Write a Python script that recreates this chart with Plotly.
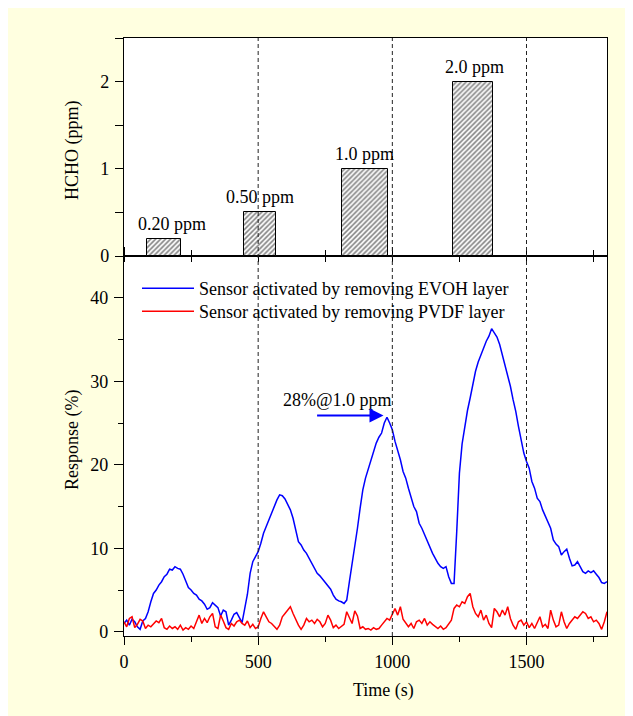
import plotly.graph_objects as go

# ---------------- data ----------------
time_s = list(range(0, 1801, 10))

evoh_response = [
    1.0, 1.4, 0.8, 1.5, 1.2, 0.6, 0.3, 1.3, 1.6, 2.4,
    3.6, 4.6, 5.0, 5.6, 6.0, 6.6, 6.9, 7.5, 7.4, 7.8,
    7.6, 7.5, 6.9, 6.1, 5.3, 5.0, 4.6, 4.4, 3.9, 3.7,
    3.3, 2.7, 2.9, 3.5, 3.2, 2.9, 1.9, 2.6, 2.4, 0.8,
    1.4, 2.1, 2.3, 1.6, 1.1, 2.8, 4.5, 7.0, 8.4, 9.0,
    9.6, 10.6, 11.8, 12.6, 13.4, 14.4, 15.2, 15.8, 16.4, 16.3,
    15.9, 15.3, 14.6, 13.6, 12.0, 10.8, 10.4, 9.8, 9.4, 8.8,
    8.2, 7.6, 7.0, 6.7, 6.3, 6.0, 5.6, 5.1, 4.4, 3.9,
    3.7, 3.6, 3.4, 3.8, 6.0, 8.0, 10.2, 12.4, 14.8, 17.0,
    18.4, 19.4, 20.6, 21.6, 22.6, 23.3, 23.8, 25.0, 25.7, 25.0,
    24.2, 22.8, 21.8, 20.6, 19.2, 18.4, 17.2, 16.2, 15.0, 14.4,
    13.0, 12.4, 11.6, 11.0, 10.0, 9.4, 8.8, 8.2, 7.8, 7.6,
    7.8, 6.6, 5.8, 5.8, 12.0, 19.0, 22.5, 24.8, 26.5, 28.0,
    29.8, 31.2, 32.3, 33.2, 34.0, 34.8, 35.4, 36.3, 35.8, 35.3,
    34.4, 33.2, 32.0, 30.6, 29.4, 27.8, 26.4, 24.6, 23.0, 21.4,
    20.4, 19.6, 18.0, 17.2, 16.0, 15.6, 14.6, 13.8, 13.0, 12.4,
    11.0, 10.5, 10.2, 9.2, 9.6, 9.9, 8.8, 7.9, 8.0, 8.4,
    7.8, 7.2, 7.0, 7.3, 7.1, 7.3, 6.9, 6.5, 5.9, 5.8,
    6.0,
]

pvdf_response = [
    1.2, 0.6, 1.6, 1.8, 0.5, 0.9, 1.5, 1.3, 0.4, 0.8,
    0.6, 1.0, 1.3, 1.1, 1.6, 0.5, 0.3, 0.7, 0.4, 0.6,
    0.3, 0.8, 0.2, 0.5, 0.3, 0.7, 0.4, 1.2, 2.0, 1.0,
    1.6, 1.1, 1.8, 2.2, 0.6, 0.4, 2.0, 1.3, 0.5, 0.3,
    1.0, 0.7, 1.2, 1.4, 1.0, 0.8, 1.3, 0.5, 0.9, 0.4,
    0.6, 1.6, 2.4, 1.8, 1.2, 1.0, 0.6, 0.3, 0.8, 1.8,
    2.2, 2.6, 3.0, 2.2, 1.4, 0.8, 0.3, 0.8, 1.6, 1.2,
    1.4, 1.0, 1.5, 1.2, 0.6, 1.0, 2.0, 1.4, 0.5, 0.8,
    0.4, 0.6, 0.9, 2.4, 1.6, 1.0, 2.5, 1.9, 0.4, 0.6,
    0.3, 0.4, 0.2, 0.5, 0.3, 0.4, 0.8, 1.2, 1.6, 1.4,
    2.1, 2.8, 2.0, 3.0, 1.5, 1.0, 0.6, 1.0, 0.4, 1.2,
    1.4, 1.0, 1.6, 0.8, 1.2, 0.9, 0.6, 0.4, 0.7, 0.3,
    0.5, 0.9, 1.4, 2.8, 3.2, 3.0, 3.6, 3.4, 4.2, 4.6,
    3.0, 2.2, 1.8, 2.6, 1.4, 2.0, 1.0, 0.5, 2.8, 2.4,
    1.8, 2.6, 2.0, 3.0, 1.6, 0.8, 0.3, 1.2, 1.4, 0.8,
    1.2, 0.5, 1.0, 0.4, 1.2, 1.8, 0.6, 0.9, 0.4, 2.6,
    1.4, 0.6, 0.8, 2.4, 1.2, 0.4, 1.0, 1.4, 1.8, 1.6,
    2.0, 2.4, 2.2, 1.6, 1.8, 1.2, 1.4, 1.0, 0.3, 1.2,
    2.4,
]

exposure_start = [84, 448, 811, 1225]
exposure_end = [212, 566, 984, 1374]
hcho_ppm = [0.2, 0.5, 1.0, 2.0]
dose_labels = ["0.20 ppm", "0.50 ppm", "1.0 ppm", "2.0 ppm"]
dose_label_x = [180, 505, 897, 1308]

series_names = ["Sensor activated by removing EVOH layer",
                "Sensor activated by removing PVDF layer"]
x_ticks = [0, 500, 1000, 1500]
marker_lines = [500, 1000, 1500]

peak_text = "28%@1.0 ppm"

# ---------------- geometry helpers ----------------
# page body margin of 8px: screen px = figure px + 8
OFF = 8
W, H = 633, 716
ML, MT = 116, 30
MR = W - (607 - OFF)
MB = H - (636 - OFF)
PW, PH = W - ML - MR, H - MT - MB


def sx(px):  # screen x -> paper
    return (px - OFF - ML) / PW


def sy(py):  # screen y -> paper
    return (H - MB - (py - OFF)) / PH


split = sy(256)

FONT = "Liberation Serif, Times New Roman, serif"
CREAM = "#FFFFE0"

fig = go.Figure()

centers = [(a + b) / 2 for a, b in zip(exposure_start, exposure_end)]
widths = [b - a for a, b in zip(exposure_start, exposure_end)]

fig.add_trace(go.Bar(
    x=centers, y=hcho_ppm, width=widths,
    xaxis="x2", yaxis="y2", showlegend=False,
    marker=dict(color="white",
                line=dict(color="black", width=1),
                pattern=dict(shape="/", fgcolor="black", bgcolor="white",
                             size=3.5, solidity=0.45)),
    hoverinfo="skip",
))

fig.add_trace(go.Scatter(
    x=time_s, y=evoh_response, mode="lines", name=series_names[0],
    line=dict(color="#0000FF", width=1.5), legend="legend",
))
fig.add_trace(go.Scatter(
    x=time_s, y=pvdf_response, mode="lines", name=series_names[1],
    line=dict(color="#FF0000", width=1.5), legend="legend2",
))

# dose labels
for lx, v, t in zip(dose_label_x, hcho_ppm, dose_labels):
    fig.add_annotation(x=lx, y=v, xref="x2", yref="y2", text=t,
                       showarrow=False, yanchor="bottom", yshift=3,
                       font=dict(family=FONT, size=18, color="black"))

# peak annotation
fig.add_annotation(x=797, y=27.7, xref="x", yref="y", text=peak_text,
                   showarrow=False, font=dict(family=FONT, size=18, color="black"))
fig.add_annotation(x=967, y=25.9, ax=714, ay=25.9, xref="x", yref="y",
                   axref="x", ayref="y", text="", showarrow=True,
                   arrowhead=2, arrowsize=1.4, arrowwidth=2, arrowcolor="#0000FF")

# axis titles
title_font = dict(family=FONT, size=18, color="black")
fig.add_annotation(x=sx(72), y=sy(150), xref="paper", yref="paper",
                   xanchor="center", yanchor="middle",
                   text="HCHO (ppm)", textangle=-90, showarrow=False, font=title_font)
fig.add_annotation(x=sx(72), y=sy(440), xref="paper", yref="paper",
                   xanchor="center", yanchor="middle",
                   text="Response (%)", textangle=-90, showarrow=False, font=title_font)
fig.add_annotation(x=sx(383), y=sy(690), xref="paper", yref="paper",
                   xanchor="center", yanchor="middle",
                   text="Time (s)", showarrow=False, font=title_font)

# dashed marker lines
for xv in marker_lines:
    fig.add_shape(type="line", xref="x", yref="paper", x0=xv, x1=xv, y0=0, y1=1,
                  line=dict(color="#222222", width=1, dash="4px,3px"), layer="above")

axis_common = dict(showline=True, linecolor="black", linewidth=1.3, showgrid=False,
                   zeroline=False, tickcolor="black",
                   tickfont=dict(family=FONT, size=18, color="black"))

legend_common = dict(xanchor="left", yanchor="top", bgcolor="rgba(0,0,0,0)", borderwidth=0,
                     font=dict(family=FONT, size=18, color="black"), itemwidth=52)

fig.update_layout(
    width=W, height=H,
    margin=dict(l=ML, r=MR, t=MT, b=MB, autoexpand=False),
    paper_bgcolor=CREAM, plot_bgcolor="white",
    bargap=0,
    xaxis=dict(domain=[0, 1], range=[0, 1800], anchor="y", tickvals=x_ticks,
               ticks="outside", ticklen=8, tickwidth=1, mirror="ticks",
               ticklabelstandoff=1,
               minor=dict(dtick=250, tick0=0, ticks="outside", ticklen=5, tickcolor="black"),
               **axis_common),
    yaxis=dict(domain=[0, split], range=[-0.5, 45], anchor="x", dtick=10, tick0=0,
               ticks="outside", ticklen=9, tickwidth=1, mirror=True,
               ticklabelstandoff=2,
               minor=dict(dtick=5, tick0=0, ticks="outside", ticklen=5, tickcolor="black"),
               **axis_common),
    xaxis2=dict(domain=[0, 1], range=[0, 1800], anchor="y2", matches="x",
                tickvals=x_ticks, showticklabels=False,
                ticks="outside", ticklen=5, tickwidth=1, mirror=True,
                minor=dict(dtick=250, tick0=0, ticks="outside", ticklen=5, tickcolor="black"),
                **axis_common),
    yaxis2=dict(domain=[split, 1], range=[0, 2.5], anchor="x2", dtick=1, tick0=0,
                ticks="outside", ticklen=8, tickwidth=1, mirror=True,
                ticklabelstandoff=2,
                minor=dict(dtick=0.5, tick0=0, ticks="outside", ticklen=8, tickcolor="black"),
                **axis_common),
    legend=dict(x=sx(137), y=sy(270), **legend_common),
    legend2=dict(x=sx(137), y=sy(293), **legend_common),
    showlegend=True,
)

fig.write_html("out.html")
